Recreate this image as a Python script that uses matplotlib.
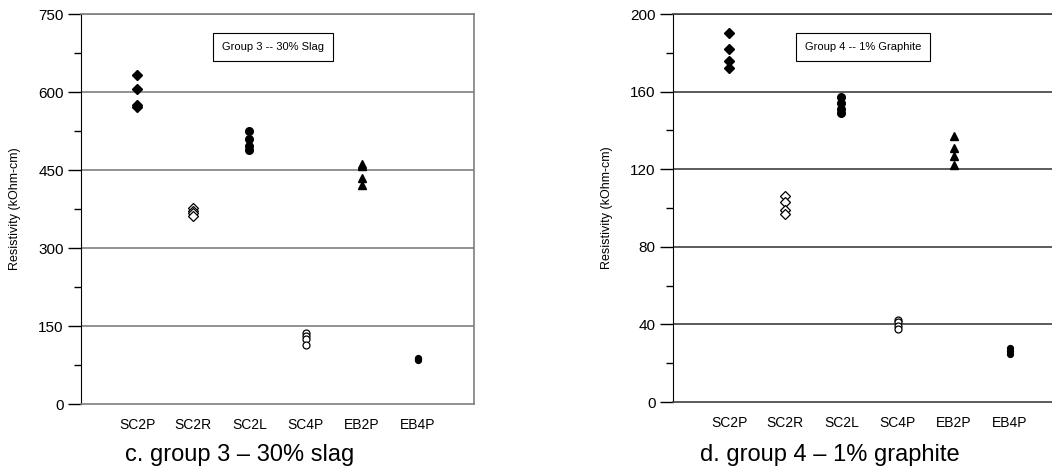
import matplotlib
matplotlib.use("Agg")
import matplotlib.pyplot as plt
from matplotlib.ticker import MultipleLocator

plt.rcParams['font.family'] = ['Liberation Sans', 'DejaVu Sans']

categories = ['SC2P', 'SC2R', 'SC2L', 'SC4P', 'EB2P', 'EB4P']

# group 3 -- 30% slag (kOhm-cm)
g3_sc2p = [632, 605, 575, 571]
g3_sc2r = [376, 372, 368, 362]
g3_sc2l = [525, 510, 497, 488]
g3_sc4p = [137, 131, 125, 114]
g3_eb2p = [462, 457, 435, 422]
g3_eb4p = [88, 86, 84]

# group 4 -- 1% graphite (kOhm-cm)
g4_sc2p = [190, 182, 176, 172]
g4_sc2r = [106, 103, 99, 97]
g4_sc2l = [157, 154, 151, 149]
g4_sc4p = [42.5, 41, 39, 37.5]
g4_eb2p = [137, 131, 127, 122]
g4_eb4p = [28, 26.5, 25]

W, H = 1052, 470
fig = plt.figure(figsize=(W / 100, H / 100), dpi=100)

styles = [
    dict(marker='D', ms=5.5, mfc='black', mec='black'),
    dict(marker='D', ms=5.2, mfc='white', mec='black', mew=0.9),
    dict(marker='o', ms=5.5, mfc='black', mec='black'),
    dict(marker='o', ms=5, mfc='white', mec='black', mew=0.9),
    dict(marker='^', ms=5.2, mfc='black', mec='black'),
    dict(marker='o', ms=4.2, mfc='black', mec='black'),
]


def panel(rect, series, ymax, ystep, gridcol, box_text, box_xy, caption, cap_x):
    ax = fig.add_axes(rect)
    for i, vals in enumerate(series):
        ax.plot([i + 1] * len(vals), vals, ls='none', **styles[i], zorder=3)
    ax.set_xlim(0, 7)
    ax.set_ylim(0, ymax)
    ax.set_xticks(range(1, 7))
    ax.set_xticklabels(categories, fontsize=10)
    ax.tick_params(axis='x', length=0, pad=10)
    ax.yaxis.set_major_locator(MultipleLocator(ystep))
    ax.yaxis.set_minor_locator(MultipleLocator(ystep / 2))
    ax.tick_params(axis='y', which='major', length=9.5, width=1, labelsize=11, pad=3)
    ax.tick_params(axis='y', which='minor', length=5, width=1)
    for y in range(ystep, ymax + 1, ystep):
        ax.axhline(y, color=gridcol, lw=1.2, zorder=1)
    ax.spines['left'].set_color('black')
    for s in ['right', 'bottom', 'top']:
        ax.spines[s].set_color(gridcol)
        ax.spines[s].set_linewidth(1.2)
    ax.set_ylabel('Resistivity (kOhm-cm)', fontsize=9, labelpad=12)
    ax.text(box_xy[0], box_xy[1], box_text, fontsize=8, ha='center', va='center',
            bbox=dict(boxstyle='square,pad=0.8', fc='white', ec='black', lw=0.8), zorder=4)
    fig.text(cap_x / W, 1 - 455 / H, caption, fontsize=17, ha='center', va='center')
    return ax


panel([81 / W, 66 / H, 393 / W, 390 / H],
      [g3_sc2p, g3_sc2r, g3_sc2l, g3_sc4p, g3_eb2p, g3_eb4p],
      750, 150, '#7f7f7f', 'Group 3 -- 30% Slag', (3.42, 686),
      'c. group 3 \u2013 30% slag', 240)

panel([673 / W, 68 / H, 393 / W, 388 / H],
      [g4_sc2p, g4_sc2r, g4_sc2l, g4_sc4p, g4_eb2p, g4_eb4p],
      200, 40, '#404040', 'Group 4 -- 1% Graphite', (3.39, 183),
      'd. group 4 \u2013 1% graphite', 830)

fig.savefig('out.png', dpi=100)
